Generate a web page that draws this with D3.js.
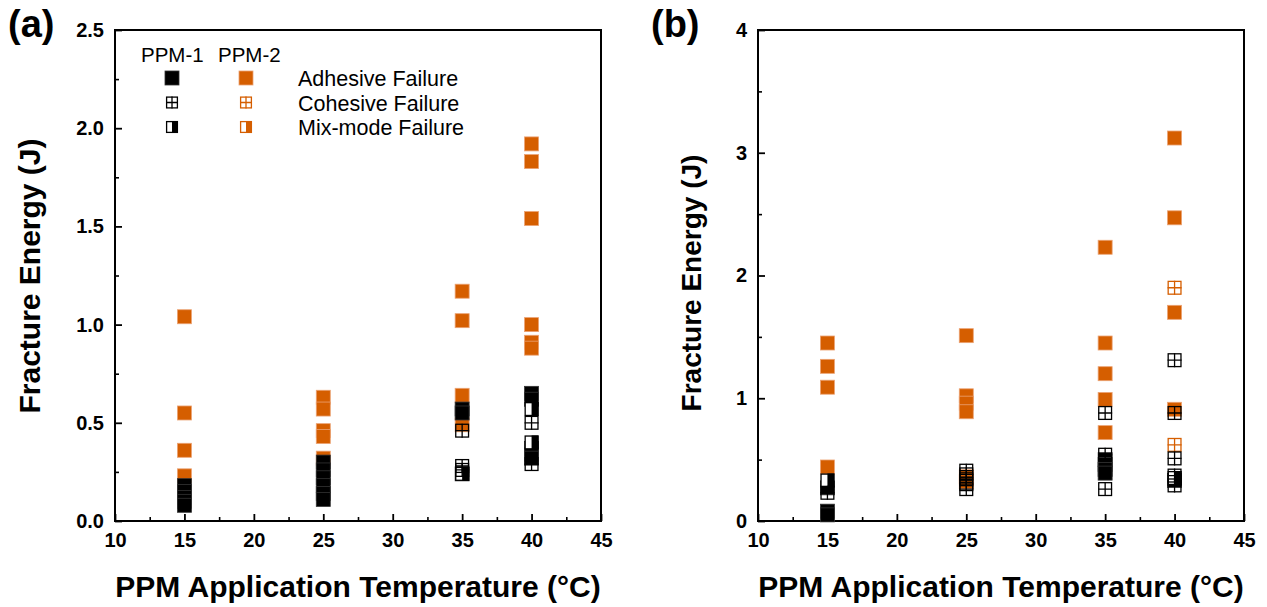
<!DOCTYPE html>
<html>
<head>
<meta charset="utf-8">
<script src="https://cdn.jsdelivr.net/npm/d3@7"></script>
<style>
  body { margin: 0; background: #fff; }
  text { font-family: "Liberation Sans", Arial, sans-serif; }
</style>
</head>
<body>
<svg id="chart" width="1267" height="607"></svg>
<script>
// ---- data: [temperature (°C), fracture energy (J)] ----
var xTicks = [10, 15, 20, 25, 30, 35, 40, 45];
var yTicksA = [0, 0.5, 1.0, 1.5, 2.0, 2.5];
var yTicksB = [0, 1, 2, 3, 4];

// panel (a)
var a_ppm2_adhesive = [[15,1.04],[15,0.55],[15,0.36],[15,0.23],
  [25,0.63],[25,0.57],[25,0.46],[25,0.43],[25,0.32],
  [35,1.17],[35,1.02],[35,0.64],[35,0.49],
  [40,1.92],[40,1.83],[40,1.54],[40,1.00],[40,0.91],[40,0.88]];
var a_ppm2_cohesive = [];
var a_ppm2_mixed = [];
var a_ppm1_adhesive = [[15,0.18],[15,0.15],[15,0.12],[15,0.10],[15,0.08],
  [25,0.30],[25,0.26],[25,0.22],[25,0.18],[25,0.14],[25,0.11],
  [35,0.57],[35,0.55],[35,0.24],
  [40,0.65],[40,0.62],[40,0.37],[40,0.34],[40,0.32]];
var a_ppm1_mixed = [[35,0.24],[40,0.57],[40,0.40]];
var a_ppm1_cohesive = [[35,0.46],[35,0.28],[35,0.26],[40,0.50],[40,0.29]];

// panel (b)
var b_ppm2_adhesive = [[15,1.45],[15,1.26],[15,1.09],[15,0.44],
  [25,1.51],[25,1.02],[25,0.96],[25,0.89],[25,0.36],[25,0.32],
  [35,2.23],[35,1.45],[35,1.20],[35,0.99],[35,0.72],
  [40,3.12],[40,2.47],[40,1.70],[40,0.91]];
var b_ppm2_cohesive = [[40,1.90],[40,0.62]];
var b_ppm2_mixed = [];
var b_ppm1_adhesive = [[15,0.27],[15,0.08],[15,0.05],
  [35,0.50],[35,0.46],[35,0.42],[35,0.39],[40,0.33]];
var b_ppm1_mixed = [[15,0.33],[40,0.35]];
var b_ppm1_cohesive = [[15,0.23],[25,0.41],[25,0.38],[25,0.34],[25,0.30],[25,0.26],
  [35,0.88],[35,0.54],[35,0.26],[40,1.31],[40,0.88],[40,0.51],[40,0.37],[40,0.29]];

var ORANGE = "#D55E00";
var svg = d3.select("#chart");
var plotW = 486, plotH = 491, plotTop = 30;

function drawMarkers(g, data, type, color, x, y, s) {
  s = s || 14;
  var h = s / 2;
  var m = g.append("g").selectAll("g").data(data).enter().append("g")
    .attr("transform", function(d){ return "translate(" + x(d[0]) + "," + y(d[1]) + ")"; });
  if (type == "adhesive") {
    m.append("rect").attr("x", -h).attr("y", -h).attr("width", s).attr("height", s)
      .attr("fill", color).attr("stroke", color == ORANGE ? "#eba273" : "#333").attr("stroke-width", 0.8);
  } else if (type == "cohesive") {
    m.append("rect").attr("x", -h + 0.6).attr("y", -h + 0.6).attr("width", s - 1.2).attr("height", s - 1.2)
      .attr("fill", "none").attr("stroke", color).attr("stroke-width", 1.3);
    m.append("path").attr("d", "M0," + (-h) + "V" + h + "M" + (-h) + ",0H" + h)
      .attr("stroke", color).attr("stroke-width", 1.3);
  } else {
    m.append("rect").attr("x", -h + 0.6).attr("y", -h + 0.6).attr("width", s - 1.2).attr("height", s - 1.2)
      .attr("fill", "#fff").attr("stroke", color).attr("stroke-width", 1.3);
    m.append("rect").attr("x", 0).attr("y", -h).attr("width", h).attr("height", s).attr("fill", color);
  }
}

function drawPanel(opt) {
  var g = svg.append("g").attr("transform", "translate(" + opt.left + "," + plotTop + ")");
  var x = d3.scaleLinear().domain([10, 45]).range([0, plotW]);
  var y = d3.scaleLinear().domain([0, opt.ymax]).range([plotH, 0]);

  // minor ticks
  var xMinor = d3.range(12.5, 45, 5);
  var yMinor = d3.range(opt.ystep / 2, opt.ymax, opt.ystep);
  g.append("g").attr("transform", "translate(0," + plotH + ")")
    .call(d3.axisBottom(x).tickValues(xMinor).tickSize(-4).tickFormat(""))
    .call(function(a){ a.select(".domain").remove(); a.selectAll("line").attr("stroke-width", 1.6); });
  g.append("g")
    .call(d3.axisLeft(y).tickValues(yMinor).tickSize(-4).tickFormat(""))
    .call(function(a){ a.select(".domain").remove(); a.selectAll("line").attr("stroke-width", 1.6); });

  // major ticks + labels
  var xa = g.append("g").attr("transform", "translate(0," + plotH + ")")
    .call(d3.axisBottom(x).tickValues(xTicks).tickSize(-7).tickPadding(12).tickFormat(d3.format("d")));
  var ya = g.append("g")
    .call(d3.axisLeft(y).tickValues(opt.yTicks).tickSize(-7).tickPadding(11).tickFormat(d3.format(opt.yfmt)));
  [xa, ya].forEach(function(a){
    a.select(".domain").remove();
    a.selectAll("line").attr("stroke-width", 1.8);
    a.selectAll("text").attr("fill", "#000").style("font-size", "20px").style("font-weight", "bold");
  });

  // frame
  g.append("rect").attr("width", plotW).attr("height", plotH)
    .attr("fill", "none").attr("stroke", "#000").attr("stroke-width", 2);

  // titles
  g.append("text").attr("x", plotW / 2).attr("y", 567).attr("text-anchor", "middle")
    .style("font-size", "30px").style("font-weight", "bold").text("PPM Application Temperature (°C)");
  g.append("text").attr("transform", "translate(" + opt.ytitleX + "," + opt.ytitleY + ") rotate(-90)")
    .attr("text-anchor", "middle").style("font-size", opt.ytitleSize + "px").style("font-weight", "bold")
    .text("Fracture Energy (J)");
  svg.append("text").attr("x", opt.left - 107).attr("y", 37)
    .style("font-size", "38px").style("font-weight", "bold").text(opt.tag);

  // data: PPM-2 below, PPM-1 on top
  drawMarkers(g, opt.s.p2a, "adhesive", ORANGE, x, y);
  drawMarkers(g, opt.s.p2m, "mixed", ORANGE, x, y);
  drawMarkers(g, opt.s.p2c, "cohesive", ORANGE, x, y);
  drawMarkers(g, opt.s.p1a, "adhesive", "#000", x, y);
  drawMarkers(g, opt.s.p1m, "mixed", "#000", x, y);
  drawMarkers(g, opt.s.p1c, "cohesive", "#000", x, y);
  return g;
}

drawPanel({ left: 115, ymax: 2.5, ystep: 0.5, yTicks: yTicksA, yfmt: ".1f",
  ytitleX: -75, ytitleY: 246, ytitleSize: 30, tag: "(a)",
  s: { p2a: a_ppm2_adhesive, p2c: a_ppm2_cohesive, p2m: a_ppm2_mixed,
       p1a: a_ppm1_adhesive, p1c: a_ppm1_cohesive, p1m: a_ppm1_mixed } });
drawPanel({ left: 758, ymax: 4, ystep: 1, yTicks: yTicksB, yfmt: "d",
  ytitleX: -57, ytitleY: 253, ytitleSize: 28, tag: "(b)",
  s: { p2a: b_ppm2_adhesive, p2c: b_ppm2_cohesive, p2m: b_ppm2_mixed,
       p1a: b_ppm1_adhesive, p1c: b_ppm1_cohesive, p1m: b_ppm1_mixed } });

// legend (panel a)
var lg = svg.append("g");
var legendTypes = ["adhesive", "cohesive", "mixed"];
var legendLabels = ["Adhesive Failure", "Cohesive Failure", "Mix-mode Failure"];
var legendY = [78, 102.5, 127];
lg.append("text").attr("x", 141).attr("y", 62).style("font-size", "20.5px").text("PPM-1");
lg.append("text").attr("x", 218).attr("y", 62).style("font-size", "20.5px").text("PPM-2");
legendTypes.forEach(function(t, i){
  var sz = i == 0 ? 14 : 12;
  var ident = function(v){ return v; };
  drawMarkers(lg, [[172, legendY[i]]], t, "#000", ident, ident, sz);
  drawMarkers(lg, [[246, legendY[i]]], t, ORANGE, ident, ident, sz);
  lg.append("text").attr("x", 298).attr("y", legendY[i] + 8).style("font-size", "21.5px").text(legendLabels[i]);
});
</script>
</body>
</html>
